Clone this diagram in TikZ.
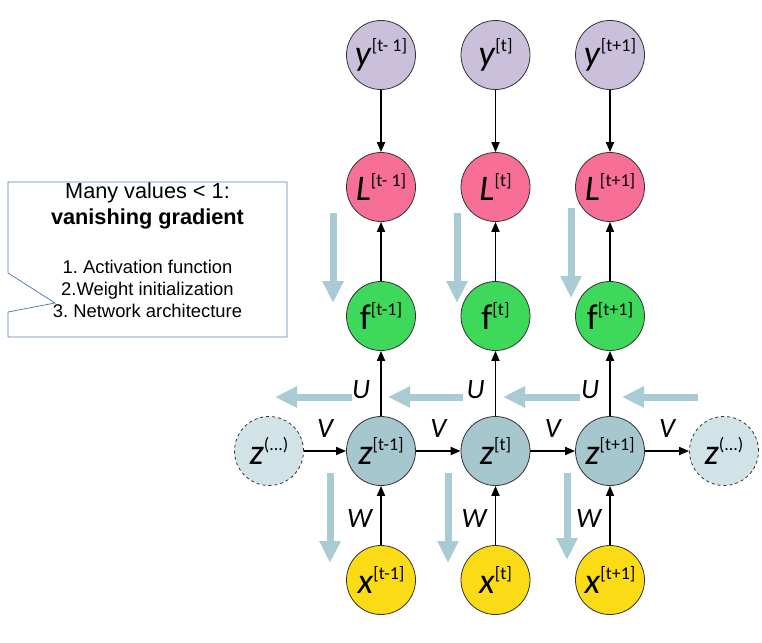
\documentclass[tikz,border=0pt]{standalone}
\usepackage{fontspec}
\setmainfont{Carlito}
\newfontfamily\calloutfont{Liberation Sans}
\usetikzlibrary{arrows.meta}
\frenchspacing

\definecolor{ycol}{HTML}{CBC0DC}
\definecolor{lcol}{HTML}{F76F97}
\definecolor{fcol}{HTML}{3ED85A}
\definecolor{zcol}{HTML}{A6C7CE}
\definecolor{zdotcol}{HTML}{D2E3E8}
\definecolor{xcol}{HTML}{FADB15}
\definecolor{gradcol}{HTML}{A9CBD3}
\definecolor{boxcol}{HTML}{5A7DBC}

\newcommand{\nlab}[2]{#1\raisebox{14pt}{\fontsize{18}{18}\selectfont #2}}

\begin{document}
\begin{tikzpicture}[x=1pt, y=-1pt, ->, >={Triangle[width=8pt,length=10pt]}, line width=1.8pt, node distance=114.5pt]
                \tikzstyle{every node}=[font=\fontsize{36}{36}\selectfont]
                \tikzstyle{unit}=[circle, draw=black!80, line width=0.8pt, minimum size=69pt, inner sep=0pt]
                \tikzstyle{wlabel}=[font=\fontsize{28}{28}\selectfont\itshape, inner sep=1pt]
                \tikzstyle{grad}=[draw=gradcol, line width=7pt, -{Triangle[width=20pt,length=22pt]}]
                \useasboundingbox (0,0) rectangle (762,642);

                % outputs
                \node[unit, fill=ycol]    (y1) at (381,55)   {\nlab{\textit{y}}{[t- 1]}};
                \node[unit, fill=ycol]    (y2)[right of=y1]  {\nlab{\textit{y}}{[t]}};
                \node[unit, fill=ycol]    (y3)[right of=y2]  {\nlab{\textit{y}}{[t+1]}};
                % losses
                \node[unit, fill=lcol]    (L1)[below of=y1, node distance=132pt] {\nlab{\textit{L}}{[t- 1]}};
                \node[unit, fill=lcol]    (L2)[right of=L1]  {\nlab{\textit{L}}{[t]}};
                \node[unit, fill=lcol]    (L3)[right of=L2]  {\nlab{\textit{L}}{[t+1]}};
                % activations
                \node[unit, fill=fcol]    (f1)[below of=L1, node distance=129pt] {\nlab{f}{[t-1]}};
                \node[unit, fill=fcol]    (f2)[right of=f1]  {\nlab{f}{[t]}};
                \node[unit, fill=fcol]    (f3)[right of=f2]  {\nlab{f}{[t+1]}};
                % hidden states
                \node[unit, fill=zcol]    (z1)[below of=f1, node distance=135pt] {\nlab{\textit{z}}{[t-1]}};
                \node[unit, fill=zcol]    (z2)[right of=z1]  {\nlab{\textit{z}}{[t]}};
                \node[unit, fill=zcol]    (z3)[right of=z2]  {\nlab{\textit{z}}{[t+1]}};
                \node[unit, fill=zdotcol, dashed] (z0)[left of=z1, node distance=112pt]  {\nlab{\textit{z}}{(...)}};
                \node[unit, fill=zdotcol, dashed] (z4)[right of=z3, node distance=114pt] {\nlab{\textit{z}}{(...)}};
                % inputs
                \node[unit, fill=xcol]    (x1)[below of=z1, node distance=129pt] {\nlab{\textit{x}}{[t-1]}};
                \node[unit, fill=xcol]    (x2)[right of=x1]  {\nlab{\textit{x}}{[t]}};
                \node[unit, fill=xcol]    (x3)[right of=x2]  {\nlab{\textit{x}}{[t+1]}};

                \path
                (y1) edge (L1)
                (y2) edge (L2)
                (y3) edge (L3)
                (f1) edge (L1)
                (f2) edge (L2)
                (f3) edge (L3)
                (z1) edge node[wlabel, pos=0.4, left=9pt]  {U} (f1)
                (z2) edge node[wlabel, pos=0.4, left=9pt]  {U} (f2)
                (z3) edge node[wlabel, pos=0.4, left=9pt]  {U} (f3)
                (x1) edge node[wlabel, pos=0.45, left=7pt] {W} (z1)
                (x2) edge node[wlabel, pos=0.45, left=7pt] {W} (z2)
                (x3) edge node[wlabel, pos=0.45, left=7pt] {W} (z3)
                (z0) edge node[wlabel, above=12pt] {V} (z1)
                (z1) edge node[wlabel, above=12pt] {V} (z2)
                (z2) edge node[wlabel, above=12pt] {V} (z3)
                (z3) edge node[wlabel, above=12pt] {V} (z4);

                % gradient flow
                \draw[grad] (352,397) -- (275,397);
                \draw[grad] (463,397) -- (388,397);
                \draw[grad] (580,397) -- (503,397);
                \draw[grad] (698,397) -- (622,397);
                \draw[grad] (333,213) -- (333,303);
                \draw[grad] (457,213) -- (457,303);
                \draw[grad] (571,208) -- (571,298);
                \draw[grad] (330,473) -- (330,563);
                \draw[grad] (448,473) -- (448,563);
                \draw[grad] (567,473) -- (567,560);

                % callout
                \draw[-, draw=boxcol, line width=0.8pt] (8,182) -- (287,182) -- (287,337) -- (8,337)
                  -- (8,312) -- (55,303) -- (8,273) -- cycle;
                \tikzstyle{callhead}=[font=\calloutfont\fontsize{21.7}{21.7}\selectfont, anchor=base, inner sep=0pt]
                \tikzstyle{callitem}=[font=\calloutfont\fontsize{18.4}{18.4}\selectfont, anchor=base, inner sep=0pt]
                \node[callhead] (head1) at (147.5,198) {Many values < 1:};
                \node[callhead] (head2) at (147.5,224) {\bfseries vanishing gradient};
                \node[callitem] (item1) at (147.5,273) {1. Activation function};
                \node[callitem] (item2) at (147.5,295) {2.Weight initialization};
                \node[callitem] (item3) at (147.5,317) {3. Network architecture};
            \end{tikzpicture}
\end{document}
